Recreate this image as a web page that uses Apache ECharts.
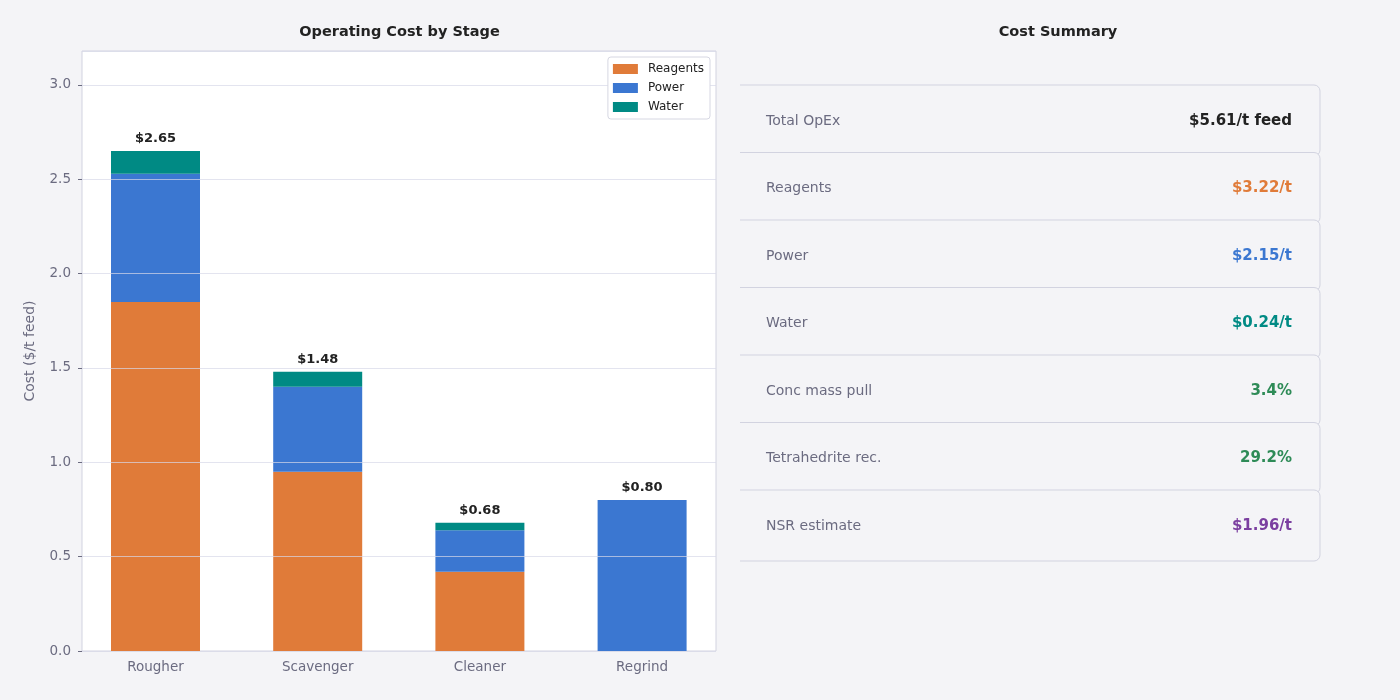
<!DOCTYPE html>
<html>
<head>
<meta charset="utf-8">
<script src="https://cdn.jsdelivr.net/npm/echarts@6/dist/echarts.min.js"></script>
<style>
  html, body { margin: 0; padding: 0; background: #f4f4f7; }
  #main { width: 1400px; height: 700px; }
</style>
</head>
<body>
<div id="main"></div>
<script>
// 数据
const stages = ['Rougher', 'Scavenger', 'Cleaner', 'Regrind'];
const reagents = [1.85, 0.95, 0.42, 0];
const power = [0.68, 0.45, 0.22, 0.80];
const water = [0.12, 0.08, 0.04, 0];

const summaryLabels = ['Total OpEx', 'Reagents', 'Power', 'Water', 'Conc mass pull', 'Tetrahedrite rec.', 'NSR estimate'];
const summaryValues = ['$5.61/t feed', '$3.22/t', '$2.15/t', '$0.24/t', '3.4%', '29.2%', '$1.96/t'];
const summaryColors = ['#222222', '#e07b39', '#3b77d1', '#008a84', '#2e8b57', '#2e8b57', '#7b3fa0'];

const totals = stages.map((s, i) => reagents[i] + power[i] + water[i]);
const font = 'DejaVu Sans';

// 标题 + 右侧卡片
const gfx = [
    { type: 'text', style: { x: 399.5, y: 32.5, text: 'Operating Cost by Stage', fill: '#222', fontSize: 14.5, fontWeight: 'bold', fontFamily: font, align: 'center', verticalAlign: 'middle' } },
    { type: 'text', style: { x: 1058, y: 32.5, text: 'Cost Summary', fill: '#222', fontSize: 14.5, fontWeight: 'bold', fontFamily: font, align: 'center', verticalAlign: 'middle' } }
];
summaryLabels.forEach((lab, i) => {
    const top = 85 + i * 67.5;
    gfx.push({
        type: 'rect',
        shape: { x: 720, y: top, width: 600, height: 71, r: 6 },
        style: { fill: '#f4f4f7', stroke: '#d2d3e0', lineWidth: 1 },
        z: 10 + i
    });
    gfx.push({
        type: 'text',
        style: { x: 766, y: top + 36, text: lab, fill: '#6b6b80', fontSize: 14, fontFamily: font, verticalAlign: 'middle' },
        z: 10 + i
    });
    gfx.push({
        type: 'text',
        style: { x: 1292, y: top + 36, text: summaryValues[i], fill: summaryColors[i], fontSize: 15, fontWeight: 'bold', fontFamily: font, align: 'right', verticalAlign: 'middle' },
        z: 10 + i
    });
});
// 左边遮挡
gfx.push({
    type: 'rect',
    shape: { x: 717, y: 70, width: 23, height: 520 },
    style: { fill: '#f4f4f7' },
    z: 30
});

const option = {
    backgroundColor: '#f4f4f7',
    textStyle: { fontFamily: font },
    legend: {
        orient: 'vertical',
        right: 690,
        top: 57,
        z: 10,
        icon: 'rect',
        itemWidth: 25,
        itemHeight: 10,
        itemGap: 7,
        padding: [6, 6, 6, 5],
        backgroundColor: '#fff',
        borderColor: '#d6d7e2',
        borderWidth: 1,
        borderRadius: 3,
        textStyle: { fontSize: 12, color: '#222', fontFamily: font, padding: [0, 0, 0, 5] },
        data: ['Reagents', 'Power', 'Water']
    },
    grid: [
        // 外框
        { left: 82, right: 684, top: 51, bottom: 49, show: true, backgroundColor: '#fff', borderColor: '#d2d3e0', borderWidth: 1 },
        // 数据
        { left: 74.4, right: 676.8, top: 51, bottom: 49 }
    ],
    xAxis: [
        { type: 'value', gridIndex: 0, min: 0, max: 1, show: false },
        {
            type: 'category', gridIndex: 1,
            data: stages,
            axisLine: { show: false },
            axisTick: { alignWithLabel: true, lineStyle: { color: '#6b6b80' }, length: 4 },
            axisLabel: { color: '#6b6b80', fontSize: 13.5, margin: 9 }
        }
    ],
    yAxis: [
        {
            type: 'value', gridIndex: 0,
            min: 0, max: 3.18, interval: 0.5,
            z: 5,
            name: 'Cost ($/t feed)',
            nameLocation: 'middle',
            nameGap: 45,
            nameTextStyle: { color: '#6b6b80', fontSize: 14 },
            axisLine: { show: false },
            axisTick: { show: true, length: 4, lineStyle: { color: '#6b6b80' } },
            axisLabel: { color: '#6b6b80', fontSize: 13.5, margin: 11, showMaxLabel: false, formatter: v => v.toFixed(1) },
            splitLine: { lineStyle: { color: 'rgba(215,217,232,0.7)', width: 1 } }
        },
        { type: 'value', gridIndex: 1, min: 0, max: 3.18, show: false, splitLine: { show: false } }
    ],
    series: [
        { name: 'Reagents', type: 'bar', stack: 'cost', xAxisIndex: 1, yAxisIndex: 1, data: reagents, barWidth: 89, itemStyle: { color: '#e07b39' } },
        { name: 'Power', type: 'bar', stack: 'cost', xAxisIndex: 1, yAxisIndex: 1, data: power, barWidth: 89, itemStyle: { color: '#3b77d1' } },
        {
            name: 'Water', type: 'bar', stack: 'cost', xAxisIndex: 1, yAxisIndex: 1, data: water, barWidth: 89, itemStyle: { color: '#008a84' },
            label: {
                show: true, position: 'top', distance: 6,
                color: '#222', fontSize: 13, fontWeight: 'bold', fontFamily: font,
                formatter: p => '$' + totals[p.dataIndex].toFixed(2)
            }
        }
    ],
    graphic: gfx
};

const myChart = echarts.init(document.getElementById('main'));
myChart.setOption(option);
</script>
</body>
</html>
